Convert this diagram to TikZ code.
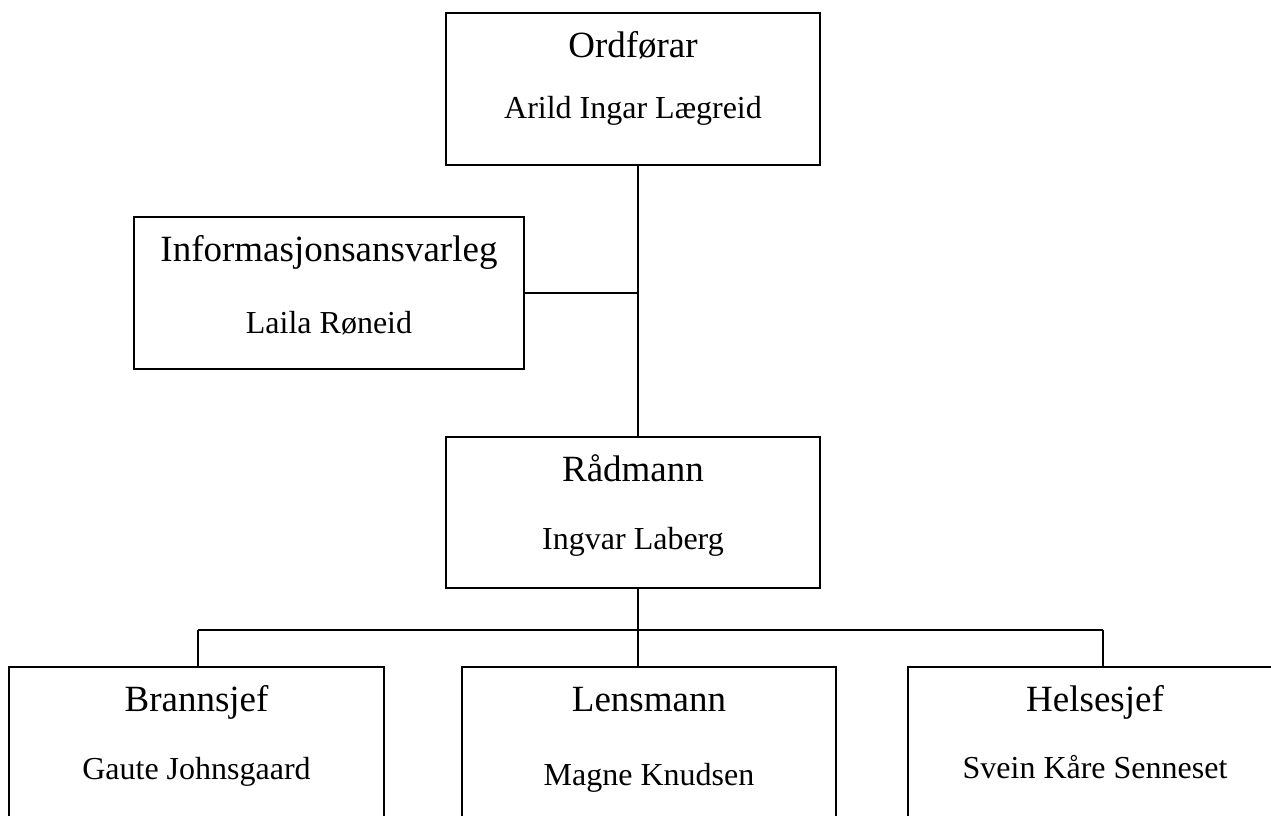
\documentclass[tikz,border=0pt]{standalone}
\usepackage{fontspec}
\setmainfont{Liberation Serif}
\usetikzlibrary{calc}
\tikzset{
    orgbox/.style={draw, rectangle, line width=1.6pt, inner sep=0pt},
    titletext/.style={anchor=base, inner sep=0pt, font=\fontsize{37}{44}\selectfont},
    persontext/.style={anchor=base, inner sep=0pt, font=\fontsize{32}{38}\selectfont},
    link/.style={line width=1.3pt}
}
% box from (#2,#3) to (#4,#5), title 45 below the top, person #8 below the top
\newcommand\OrgBox[8]{%
    \node[orgbox, minimum width={(#4-#2)*1pt}, minimum height={(#5-#3)*1pt}]
        (#1) at ({(#2+#4)/2},{(#3+#5)/2}) {};
    \node[titletext] (#1-title) at ($(#1.north)+(0,45)$) {#6};
    \node[persontext] (#1-person) at ($(#1.north)+(0,#8)$) {#7};
}

\begin{document}
\begin{tikzpicture}[x=1pt,y=-1pt]
    \useasboundingbox (0,0) rectangle (1271,816);
    \clip (0,0) rectangle (1271,816);
    \OrgBox{ord}{446}{13}{820}{165}{Ordførar}{Arild Ingar Lægreid}{106}
    \OrgBox{info}{134}{217}{524}{369}{Informasjonsansvarleg}{Laila Røneid}{117}
    \OrgBox{rad}{446}{437}{820}{588}{Rådmann}{Ingvar Laberg}{113}
    \OrgBox{brann}{9}{667}{384}{840}{Brannsjef}{Gaute Johnsgaard}{113}
    \OrgBox{lens}{462}{667}{836}{840}{Lensmann}{Magne Knudsen}{119}
    \OrgBox{helse}{908}{667}{1282}{840}{Helsesjef}{Svein Kåre Senneset}{112}
    \coordinate (trunk) at (638,294);
    \coordinate (busL) at (198,630);
    \coordinate (busR) at (1103,630);
    \begin{scope}[link]
        \draw (ord.south -| trunk) -- (rad.north -| trunk);
        \draw (info.east) -- (info.east -| trunk);
        \draw (rad.south -| trunk) -- (lens.north -| trunk);
        \draw (busL) -- (busR);
        \draw (busL) -- (busL |- brann.north);
        \draw (busR) -- (busR |- helse.north);
    \end{scope}
\end{tikzpicture}
\end{document}
